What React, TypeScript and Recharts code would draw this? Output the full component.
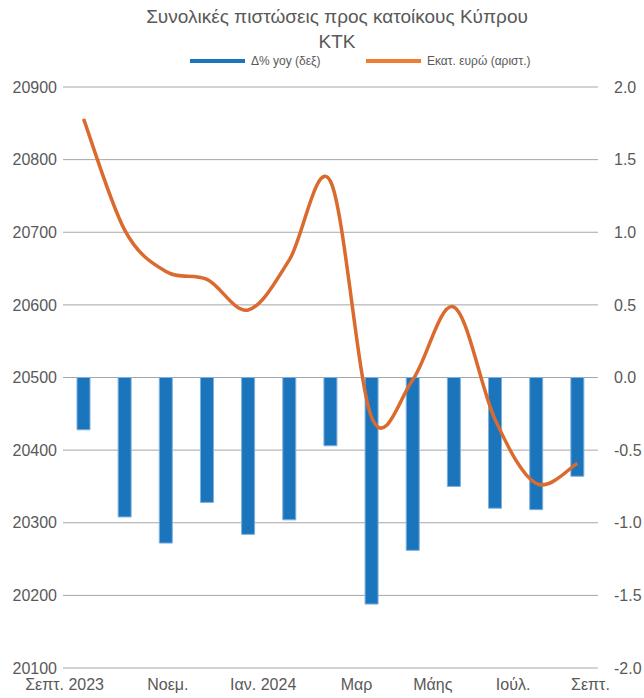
import React from "react";
import {
  ComposedChart,
  Bar,
  Line,
  XAxis,
  YAxis,
  CartesianGrid,
} from "recharts";

const months = [
  "Σεπτ. 2023",
  "Οκτ.",
  "Νοεμ.",
  "Δεκ.",
  "Ιαν. 2024",
  "Φεβ.",
  "Μαρ",
  "Απρ.",
  "Μάης",
  "Ιούν.",
  "Ιούλ.",
  "Αύγ.",
  "Σεπτ.",
];

// Εκατ. ευρώ (αριστ.)
const creditStock = [
  20856, 20703, 20646, 20635, 20593, 20662, 20770, 20445, 20497, 20597, 20442,
  20354, 20382,
];

// Δ% yoy (δεξ)
const yoyChange = [
  -0.36, -0.96, -1.14, -0.86, -1.08, -0.98, -0.47, -1.56, -1.19, -0.75, -0.9,
  -0.91, -0.68,
];

const leftTicks = [20100, 20200, 20300, 20400, 20500, 20600, 20700, 20800, 20900];
const rightTicks = [-2, -1.5, -1, -0.5, 0, 0.5, 1, 1.5, 2];

// small horizontal nudges so the month labels sit where the original has them
const labelNudge = [-19, 0, 2, 0, 15, 0, 26, 0, 20, 0, 18, 0, 13];

const data = months.map((month, i) => ({
  month,
  stock: creditStock[i],
  yoy: yoyChange[i],
}));

const FONT = "'Liberation Sans', Arial, sans-serif";
const TEXT = "#595959";
const BLUE = "#1b75bc";
const ORANGE = "#da6a2e";

// Excel-style smoothed line (Catmull-Rom through every point)
const excelSmooth = (ctx: any) => {
  let pts: number[][] = [];
  return {
    areaStart() {},
    areaEnd() {},
    lineStart() {
      pts = [];
    },
    point(x: number, y: number) {
      pts.push([+x, +y]);
    },
    lineEnd() {
      if (!pts.length) return;
      ctx.moveTo(pts[0][0], pts[0][1]);
      for (let i = 0; i < pts.length - 1; i++) {
        const p0 = pts[i - 1] || pts[i];
        const p1 = pts[i];
        const p2 = pts[i + 1];
        const p3 = pts[i + 2] || p2;
        ctx.bezierCurveTo(
          p1[0] + (p2[0] - p0[0]) / 6,
          p1[1] + (p2[1] - p0[1]) / 6,
          p2[0] - (p3[0] - p1[0]) / 6,
          p2[1] - (p3[1] - p1[1]) / 6,
          p2[0],
          p2[1]
        );
      }
    },
  };
};

function MonthTick({ x, y, payload, index }: any) {
  if (index % 2 !== 0) return null;
  return (
    <text
      x={x + (labelNudge[index] || 0)}
      y={y}
      dy={14}
      textAnchor="middle"
      fill={TEXT}
      fontSize={16}
      fontFamily={FONT}
    >
      {payload.value}
    </text>
  );
}

function LegendKey({ color, label, width }: { color: string; label: string; width: number }) {
  return (
    <div style={{ display: "flex", alignItems: "center", width }}>
      <div style={{ width: 55, height: 4, background: color, marginRight: 6 }} />
      <span>{label}</span>
    </div>
  );
}

export default function App() {
  return (
    <div
      style={{
        position: "absolute",
        left: 0,
        top: 0,
        width: 644,
        height: 698,
        background: "#fff",
        fontFamily: FONT,
        color: TEXT,
      }}
    >
      <div
        style={{
          position: "absolute",
          left: 0,
          top: 4,
          width: 674,
          textAlign: "center",
          fontSize: 19,
          lineHeight: "25px",
        }}
      >
        Συνολικές πιστώσεις προς κατοίκους Κύπρου
        <br />
        ΚΤΚ
      </div>
      <div
        style={{
          position: "absolute",
          left: 190,
          top: 54,
          display: "flex",
          fontSize: 12,
        }}
      >
        <LegendKey color={BLUE} label="Δ% yoy (δεξ)" width={176} />
        <LegendKey color="#ed7d31" label="Εκατ. ευρώ (αριστ.)" width={240} />
      </div>
      <ComposedChart
        width={644}
        height={698}
        data={data}
        margin={{ top: 87, right: 0, bottom: 0, left: 0 }}
        style={{ position: "absolute", left: 0, top: 0 }}
      >
        <CartesianGrid vertical={false} stroke="#a6a6a6" strokeWidth={1} yAxisId="left" />
        <XAxis
          dataKey="month"
          height={30}
          axisLine={false}
          tickLine={false}
          interval={0}
          tick={<MonthTick />}
        />
        <YAxis
          yAxisId="left"
          orientation="left"
          width={63}
          domain={[20100, 20900]}
          ticks={leftTicks}
          axisLine={false}
          tickLine={false}
          tickSize={0}
          tickMargin={6}
          tick={{ fill: TEXT, fontSize: 16, fontFamily: FONT }}
        />
        <YAxis
          yAxisId="right"
          orientation="right"
          width={46}
          domain={[-2, 2]}
          ticks={rightTicks}
          tickFormatter={(v: number) => v.toFixed(1)}
          axisLine={false}
          tickLine={false}
          tickSize={0}
          tickMargin={16}
          tick={{ fill: TEXT, fontSize: 16, fontFamily: FONT, textAnchor: "start" }}
        />
        <Bar
          yAxisId="right"
          dataKey="yoy"
          fill={BLUE}
          stroke="#7fb0dc"
          strokeWidth={1}
          barSize={13}
          isAnimationActive={false}
        />
        <Line
          yAxisId="left"
          dataKey="stock"
          type={excelSmooth as any}
          stroke={ORANGE}
          strokeWidth={3.5}
          dot={false}
          activeDot={false}
          isAnimationActive={false}
        />
      </ComposedChart>
    </div>
  );
}
